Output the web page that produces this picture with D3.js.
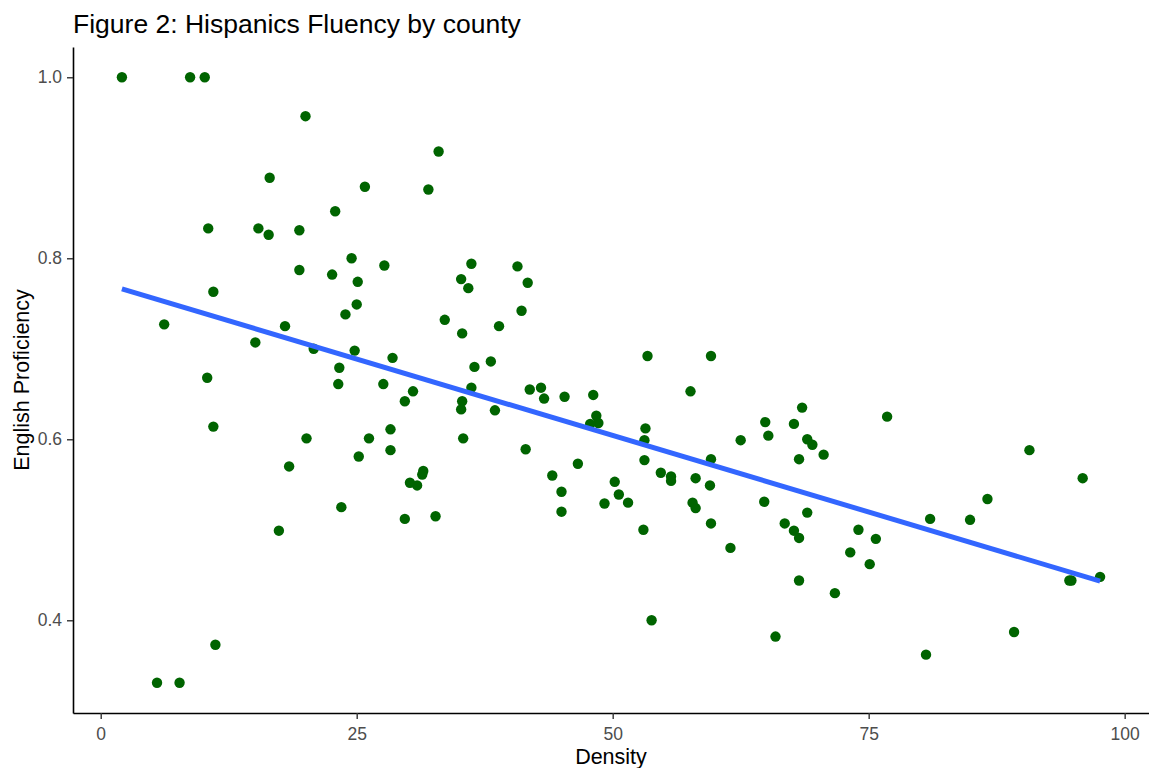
<!DOCTYPE html>
<html>
<head>
<meta charset="utf-8">
<script src="https://cdn.jsdelivr.net/npm/d3@7"></script>
<style>
	body { margin: 0; background: #fff; }
	svg { display: block; font-family: "Liberation Sans", Arial, sans-serif; }
	.tick text { fill: #4d4d4d; font-size: 17.5px; }
	.tick line { stroke: #333; stroke-width: 1.4px; }
	.domain { stroke: #000; stroke-width: 1.6px; }
</style>
</head>
<body>
<svg id="plot" width="1149" height="768"></svg>
<script>

// values, one point per county
const DENSITY = [
	2.07, 8.73, 10.16, 20.0, 16.5, 22.9, 10.5, 15.4, 16.4, 19.4,
	24.5, 19.4, 22.6, 25.1, 11.0, 25.0, 23.9, 6.2, 18.0, 15.1,
	20.8, 24.8, 23.3, 10.4, 23.2, 11.0, 20.1, 25.2, 18.4, 23.5,
	17.4, 11.2, 5.5, 7.7, 33.0, 25.8, 32.0, 27.7, 36.2, 35.2,
	35.9, 40.7, 41.7, 41.1, 33.6, 38.9, 35.3, 28.5, 38.1, 36.5,
	27.6, 30.5, 36.2, 29.7, 35.3, 35.2, 38.5, 41.9, 43.0, 43.3,
	45.3, 48.1, 48.4, 48.6, 47.8, 28.3, 26.2, 28.3, 35.4, 41.5,
	46.6, 31.5, 31.4, 30.2, 30.9, 44.1, 45.0, 50.2, 50.6, 51.5,
	49.2, 45.0, 29.7, 32.7, 53.4, 59.6, 57.6, 68.5, 64.9, 67.7,
	65.2, 62.5, 69.0, 69.5, 70.6, 68.2, 76.8, 53.2, 53.1, 53.1,
	54.7, 55.7, 55.7, 58.1, 59.5, 59.6, 57.8, 58.1, 53.0, 59.6,
	61.5, 64.8, 66.8, 67.7, 68.2, 69.0, 74.0, 75.7, 73.2, 75.1,
	68.2, 71.7, 53.8, 65.9, 90.7, 95.9, 86.6, 81.0, 84.9, 94.6,
	94.8, 97.6, 89.2, 80.6
];
const PROFICIENCY = [
	1.000, 1.000, 1.000, 0.957, 0.889, 0.852, 0.833, 0.833, 0.826, 0.831,
	0.800, 0.787, 0.782, 0.774, 0.763, 0.749, 0.738, 0.727, 0.725, 0.707,
	0.700, 0.698, 0.679, 0.668, 0.661, 0.614, 0.601, 0.581, 0.570, 0.525,
	0.499, 0.373, 0.331, 0.331, 0.918, 0.879, 0.876, 0.792, 0.794, 0.777,
	0.767, 0.791, 0.773, 0.742, 0.732, 0.725, 0.717, 0.690, 0.686, 0.680,
	0.661, 0.653, 0.657, 0.642, 0.642, 0.633, 0.632, 0.655, 0.657, 0.645,
	0.647, 0.649, 0.626, 0.618, 0.617, 0.611, 0.601, 0.588, 0.601, 0.589,
	0.573, 0.565, 0.561, 0.552, 0.549, 0.560, 0.542, 0.553, 0.539, 0.530,
	0.529, 0.520, 0.512, 0.515, 0.692, 0.692, 0.653, 0.635, 0.619, 0.617,
	0.604, 0.599, 0.600, 0.594, 0.583, 0.578, 0.625, 0.612, 0.599, 0.577,
	0.563, 0.559, 0.554, 0.557, 0.549, 0.578, 0.530, 0.524, 0.500, 0.507,
	0.480, 0.531, 0.507, 0.499, 0.491, 0.519, 0.500, 0.490, 0.475, 0.462,
	0.444, 0.430, 0.400, 0.382, 0.588, 0.557, 0.534, 0.512, 0.511, 0.444,
	0.444, 0.448, 0.387, 0.362
];
const X_TICKS = [0, 25, 50, 75, 100];
const Y_TICKS = [0.4, 0.6, 0.8, 1.0];

const TITLE = 'Figure 2: Hispanics Fluency by county';
const X_TITLE = 'Density';
const Y_TITLE = 'English Proficiency';

function whenDocumentLoaded(action) {
	if (document.readyState === "loading") {
		document.addEventListener("DOMContentLoaded", action);
	} else {
		action();
	}
}

// ggplot style: pad the data range by 5% on each side
function expand(ext) {
	let pad = (ext[1] - ext[0]) * 0.05;
	return [ext[0] - pad, ext[1] + pad];
}

// plain least squares, like geom_smooth(method = "lm")
function linearFit(data) {
	let mx = d3.mean(data, d => d.x);
	let my = d3.mean(data, d => d.y);
	let sxy = d3.sum(data, d => (d.x - mx) * (d.y - my));
	let sxx = d3.sum(data, d => (d.x - mx) * (d.x - mx));
	let slope = sxy / sxx;
	return x => my + slope * (x - mx);
}

class ScatterPlot {
	constructor(container_str, data) {
		this.svg = d3.select('#' + container_str);
		this.data = data;

		const left = 73, right = 1149, top = 47, bottom = 713;

		let x = d3.scaleLinear()
			.domain(expand(d3.extent(data, d => d.x)))
			.range([left, right]);
		let y = d3.scaleLinear()
			.domain(expand(d3.extent(data, d => d.y)))
			.range([bottom, top]);

		// axes, no outer ticks
		this.svg.append('g')
			.attr('transform', `translate(${left},0)`)
			.call(d3.axisLeft(y).tickValues(Y_TICKS).tickSizeInner(6).tickSizeOuter(0)
				.tickPadding(5).tickFormat(d3.format('.1f')));

		this.svg.append('g')
			.attr('transform', `translate(0,${bottom})`)
			.call(d3.axisBottom(x).tickValues(X_TICKS).tickSizeInner(6).tickSizeOuter(0)
				.tickPadding(4).tickFormat(d3.format('d')))
			.call(g => g.selectAll('.tick text').attr('dy', '0.95em'));

		// points
		this.svg.append('g')
			.selectAll('circle')
			.data(data)
			.enter().append('circle')
			.attr('cx', d => x(d.x))
			.attr('cy', d => y(d.y))
			.attr('r', 5.2)
			.attr('fill', '#006400');

		// fitted line
		let fit = linearFit(data);
		let ends = d3.extent(data, d => d.x);
		this.svg.append('path')
			.datum(ends)
			.attr('d', d3.line().x(d => x(d)).y(d => y(fit(d))))
			.attr('fill', 'none')
			.attr('stroke', '#3366FF')
			.attr('stroke-width', 5);

		// titles
		this.svg.append('text')
			.text(TITLE)
			.attr('x', left)
			.attr('y', 33)
			.attr('font-size', 26.5)
			.attr('fill', '#000');

		this.svg.append('text')
			.text(X_TITLE)
			.attr('x', (left + right) / 2)
			.attr('y', 764)
			.attr('text-anchor', 'middle')
			.attr('font-size', 21.5)
			.attr('fill', '#000');

		this.svg.append('text')
			.text(Y_TITLE)
			.attr('transform', `translate(29,${(top + bottom) / 2}) rotate(-90)`)
			.attr('text-anchor', 'middle')
			.attr('font-size', 21.5)
			.attr('fill', '#000');
	}
}

whenDocumentLoaded(() => {
	let data = DENSITY.map((d, i) => {
		return { 'x': d, 'y': PROFICIENCY[i] };
	});
	const plot = new ScatterPlot('plot', data);
});
</script>
</body>
</html>
